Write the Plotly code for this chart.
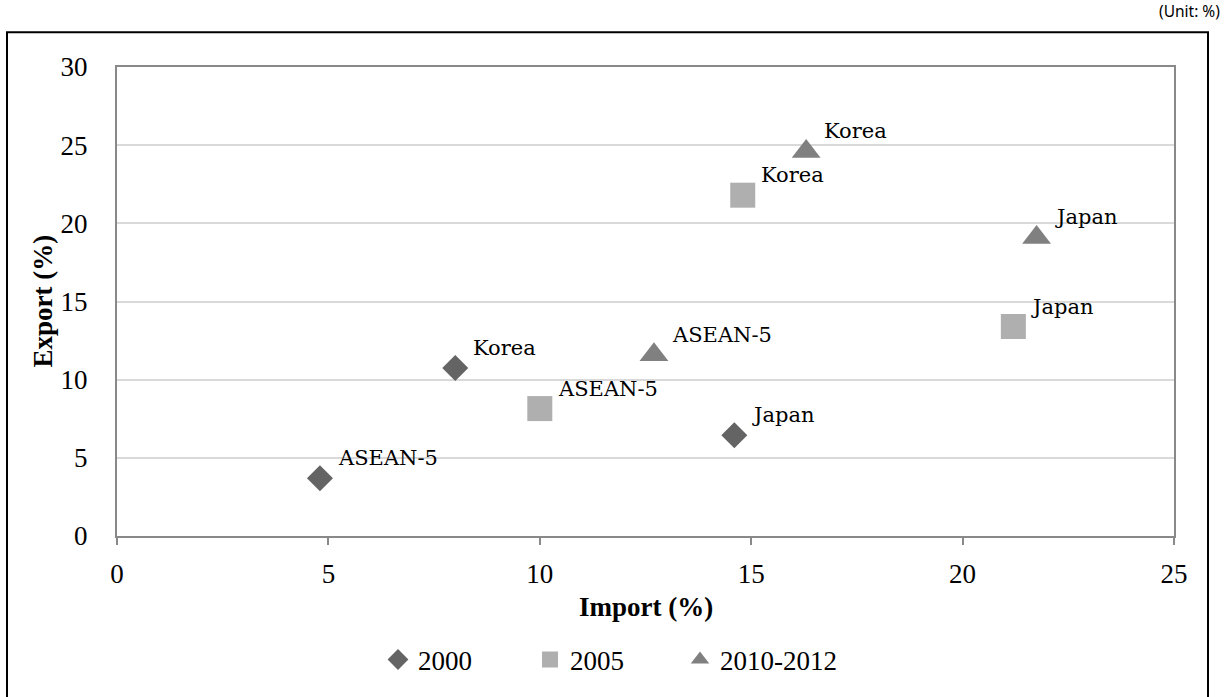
import plotly.graph_objects as go

# Trade shares by partner group (Import %, Export %)
regions = ["ASEAN-5", "Korea", "Japan"]

import_2000 = [4.8, 8.0, 14.6]
export_2000 = [3.7, 10.75, 6.45]

import_2005 = [10.0, 14.8, 21.2]
export_2005 = [8.15, 21.8, 13.4]

import_2010 = [12.7, 16.3, 21.75]
export_2010 = [11.6, 24.6, 19.1]

series = [
    ("2000", import_2000, export_2000, "diamond", 20, "#646464", 107),
    ("2005", import_2005, export_2005, "square", 25, "#afafaf", 105),
    ("2010-2012", import_2010, export_2010, "triangle-up", 25, "#808080", 150),
]

W, H = 1224, 697
L, R, T, B = 117, 50, 67, 157
pw, ph = W - L - R, H - T - B


def px_x(p):
    return (p - L) / pw


def px_y(p):
    return (H - B - p) / ph


serif = "Liberation Serif, Times New Roman, serif"
label_font = dict(family="DejaVu Serif, serif", size=21, color="#000000")

fig = go.Figure()
annotations = []
for name, xs, ys, sym, size, col, lw in series:
    fig.add_trace(go.Scatter(
        x=xs, y=ys, mode="markers", name=name, legendwidth=lw,
        marker=dict(symbol=sym, size=size, color=col, line=dict(width=0)),
    ))
    for reg, xv, yv in zip(regions, xs, ys):
        annotations.append(dict(
            x=xv, y=yv, xref="x", yref="y", text=reg, showarrow=False,
            xanchor="left", yanchor="middle", xshift=16, yshift=20,
            font=label_font,
        ))

# axis titles
annotations.append(dict(
    x=0.5, y=px_y(612), xref="paper", yref="paper", text="<b>Import (%)</b>",
    showarrow=False, xanchor="center", yanchor="middle",
    font=dict(family=serif, size=27, color="#000000"),
))
annotations.append(dict(
    x=px_x(42), y=0.5, xref="paper", yref="paper", text="<b>Export (%)</b>",
    showarrow=False, xanchor="center", yanchor="middle", textangle=-90,
    font=dict(family=serif, size=27, color="#000000"),
))
# unit note
annotations.append(dict(
    x=px_x(1222), y=px_y(11), xref="paper", yref="paper", text="(Unit: %)",
    showarrow=False, xanchor="right", yanchor="middle",
    font=dict(family="Noto Sans, sans-serif", size=15.5, color="#000000"),
))

shapes = [dict(
    type="rect", xref="paper", yref="paper",
    x0=px_x(7), x1=px_x(1208), y0=px_y(740), y1=px_y(32),
    line=dict(color="#000000", width=2), fillcolor="rgba(0,0,0,0)", layer="below",
)]

axis_common = dict(
    showline=True, mirror=True, linecolor="#898989", linewidth=2,
    gridcolor="#d9d9d9", gridwidth=1.5, zeroline=False,
    tickfont=dict(family=serif, size=27, color="#000000"),
)

fig.update_layout(
    width=W, height=H,
    margin=dict(l=L, r=R, t=T, b=B),
    paper_bgcolor="white", plot_bgcolor="white",
    xaxis=dict(range=[0, 25], dtick=5, showgrid=False, ticks="outside",
               ticklen=7, tickcolor="#898989", tickwidth=2,
               ticklabelstandoff=6, **axis_common),
    yaxis=dict(range=[0, 30], dtick=5, showgrid=True, ticks="",
               ticklabelstandoff=22, **axis_common),
    showlegend=True,
    legend=dict(
        orientation="h", x=px_x(378), y=px_y(665), xanchor="left", yanchor="middle",
        font=dict(family=serif, size=27, color="#000000"),
        entrywidthmode="pixels", itemclick=False,
    ),
    annotations=annotations,
    shapes=shapes,
)

fig.write_html("out.html")
